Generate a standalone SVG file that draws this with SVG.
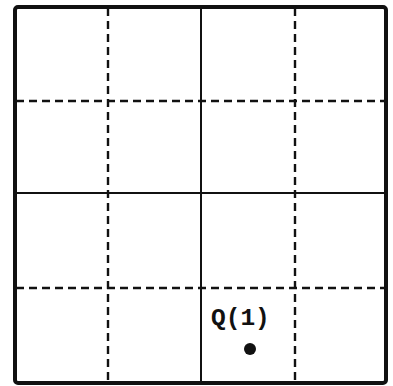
<svg xmlns="http://www.w3.org/2000/svg" width="393" height="386" viewBox="0 0 393 386">
<style>
.solid{stroke:#111;stroke-width:2;fill:none}
.dash{stroke:#111;stroke-width:2.4;fill:none;stroke-dasharray:8 5}
.border{stroke:#111;stroke-width:4;fill:none}
.lbl{font-family:"Liberation Mono",monospace;font-weight:bold;font-size:24.5px;fill:#111}
</style>
<rect width="393" height="386" fill="#fff"/>
<g id="grid">
<line class="dash" x1="108" y1="8" x2="108" y2="382"/>
<line class="dash" x1="295" y1="8" x2="295" y2="382"/>
<line class="dash" x1="16" y1="101" x2="385" y2="101"/>
<line class="dash" x1="16" y1="288" x2="385" y2="288"/>
<line class="solid" x1="201" y1="8" x2="201" y2="382"/>
<line class="solid" x1="16" y1="193" x2="385" y2="193"/>
</g>
<rect id="border" class="border" x="15" y="7" width="371" height="376" rx="3"/>
<g id="Q1">
<text class="lbl" x="211" y="325">Q(1)</text>
<circle cx="250" cy="349" r="6" fill="#111"/>
</g>
</svg>
